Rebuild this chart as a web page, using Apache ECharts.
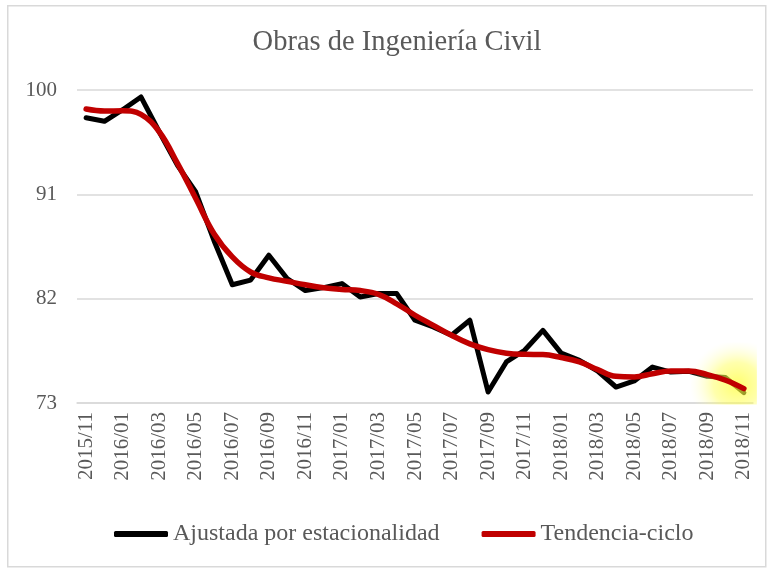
<!DOCTYPE html>
<html>
<head>
<meta charset="utf-8">
<script src="https://cdn.jsdelivr.net/npm/echarts@6/dist/echarts.min.js"></script>
<style>
html,body{margin:0;padding:0;background:#fff;}
#chart{width:771px;height:569px;}
</style>
</head>
<body>
<div id="chart"></div>
<script>
var titleText = 'Obras de Ingeniería Civil';
var months = ['2015/11','2015/12','2016/01','2016/02','2016/03','2016/04','2016/05','2016/06','2016/07','2016/08','2016/09','2016/10',
  '2016/11','2016/12','2017/01','2017/02','2017/03','2017/04','2017/05','2017/06','2017/07','2017/08','2017/09','2017/10',
  '2017/11','2017/12','2018/01','2018/02','2018/03','2018/04','2018/05','2018/06','2018/07','2018/08','2018/09','2018/10','2018/11'];
var seriesNames = ['Ajustada por estacionalidad', 'Tendencia-ciclo'];
var ajustada = [97.6, 97.3, 98.3, 99.4, 96.4, 93.5, 91.2, 87.0, 83.2, 83.6, 85.75, 83.74,
  82.7, 82.95, 83.3, 82.15, 82.44, 82.44, 80.14, 79.56, 78.84, 80.14, 73.95, 76.54,
  77.55, 79.27, 77.3, 76.68, 75.76, 74.38, 74.9, 76.1, 75.67, 75.73, 75.3, 75.19, 73.9];
var tendencia = [98.36, 98.19, 98.2, 97.9, 96.4, 93.67, 90.64, 87.6, 85.6, 84.3, 83.8, 83.5,
  83.2, 82.95, 82.8, 82.7, 82.37, 81.56, 80.57, 79.7, 78.84, 78.1, 77.6, 77.3,
  77.2, 77.18, 76.92, 76.54, 75.88, 75.3, 75.25, 75.53, 75.76, 75.76, 75.45, 74.96, 74.24];
var yMin = 73, yMax = 100, yStep = 9;

var FONT = '"Liberation Serif", "DejaVu Serif", serif';
var TXT = '#595959';
var chart = echarts.init(document.getElementById('chart'), null, {renderer: 'canvas'});
var lastIdx = months.length - 1;
chart.setOption({
  animation: false,
  backgroundColor: '#fff',
  graphic: [{
    type: 'rect', left: 7, top: 5, z: -10,
    shape: {width: 758, height: 561},
    style: {fill: '#fff', stroke: '#d9d9d9', lineWidth: 1.5}
  }],
  title: {
    text: titleText, left: 392, top: 23, textAlign: 'center',
    textStyle: {fontFamily: FONT, fontSize: 28.5, fontWeight: 'normal', color: TXT}
  },
  legend: {
    left: 109, top: 517, itemGap: 42, itemWidth: 54, itemHeight: 6,
    icon: 'roundRect',
    textStyle: {fontFamily: FONT, fontSize: 24, color: TXT},
    data: seriesNames
  },
  grid: {left: 77, right: 18, top: 90, bottom: 166, containLabel: false},
  xAxis: {
    type: 'category', data: months, boundaryGap: true,
    axisLine: {show: true, lineStyle: {color: '#d9d9d9', width: 1.5}},
    axisTick: {show: false},
    axisLabel: {rotate: 90, interval: 1, margin: 9, fontFamily: FONT, fontSize: 21, color: TXT}
  },
  yAxis: {
    type: 'value', min: yMin, max: yMax, interval: yStep,
    axisLine: {show: false}, axisTick: {show: false},
    splitLine: {lineStyle: {color: '#d9d9d9', width: 1.5}},
    axisLabel: {margin: 20, fontFamily: FONT, fontSize: 21, color: TXT}
  },
  series: [{
    name: seriesNames[0], type: 'line', data: ajustada, z: 2,
    symbol: 'none', color: '#000000',
    lineStyle: {color: '#000000', width: 5, cap: 'round', join: 'round'},
    markPoint: {
      z: 3, silent: true,
      data: [{coord: [lastIdx, ajustada[lastIdx]], symbol: 'rect', symbolSize: [66, 62], symbolOffset: [-20, -19],
        itemStyle: {color: {type: 'radial', x: 0.7, y: 0.68, r: 0.72, colorStops: [
          {offset: 0, color: 'rgba(255,255,50,0.72)'},
          {offset: 0.5, color: 'rgba(255,255,90,0.5)'},
          {offset: 1, color: 'rgba(255,255,200,0)'}]}},
        label: {show: false}}]
    }
  }, {
    name: seriesNames[1], type: 'line', data: tendencia, z: 4,
    symbol: 'none', smooth: 0.4, color: '#c00000',
    lineStyle: {color: '#c00000', width: 5.5, cap: 'round', join: 'round'}
  }]
});
</script>
</body>
</html>
